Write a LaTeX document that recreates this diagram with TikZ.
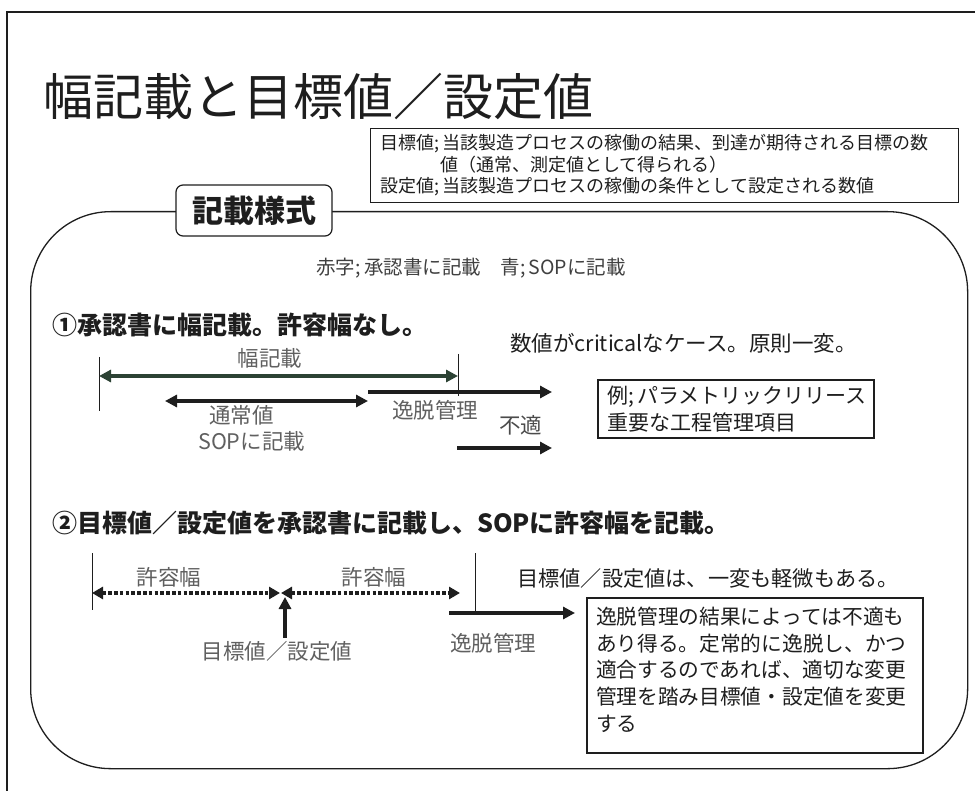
\documentclass[tikz,border=0pt]{standalone}
\usepackage{fontspec}
\setmainfont{Noto Sans CJK JP}
\usetikzlibrary{arrows.meta}
\definecolor{ink}{HTML}{1E1E1E}
\definecolor{labelgray}{HTML}{606060}
\definecolor{darkgreen}{HTML}{2C4234}
\tikzset{
  txt/.style={inner sep=0pt, anchor=west, text=ink},
  glabel/.style={inner sep=0pt, text=labelgray, font=\fontsize{21.5}{24}\selectfont},
  tick/.style={draw=ink, line width=1pt},
  boldarrow/.style={draw=ink, line width=3.8pt, -{Triangle[length=12pt,width=12pt]}},
  dblarrow/.style={draw=ink, line width=3.8pt, {Triangle[length=12pt,width=12pt]}-{Triangle[length=12pt,width=12pt]}},
  dotarrow/.style={draw=ink, line width=4.4pt, dash pattern=on 3.6pt off 2.2pt, {Triangle[length=11pt,width=12pt]}-{Triangle[length=11pt,width=12pt]}},
  notebox/.style={draw=ink, line width=2pt, anchor=north west, align=left, text=ink, inner xsep=9pt}
}
\begin{document}
\begin{tikzpicture}[x=1pt,y=-1pt]
\useasboundingbox (0,0) rectangle (975,791);
\clip (0,0) rectangle (975,791);
\fill[white] (0,0) rectangle (975,791);
% outer frame
\draw[ink, line width=1.6pt] (7,12) rectangle (995,810);
% title
\node[txt, font=\fontsize{50}{55}\selectfont] (title) at (43,97) {幅記載と目標値／設定値};
% definition box
\node[draw=ink, line width=1.3pt, anchor=north west, inner xsep=10pt, inner ysep=6pt,
      text width=568pt, align=left, text=ink, font=\fontsize{18}{21.5}\selectfont]
  (defbox) at (370,128)
  {目標値;\,当該製造プロセスの稼働の結果、到達が期待される目標の数\\
   \hspace*{3.3em}値（通常、測定値として得られる）\\
   設定値;\,当該製造プロセスの稼働の条件として設定される数値};
% main panel
\node[draw=ink, line width=1.3pt, rounded corners=80pt, anchor=north west,
      minimum width=937pt, minimum height=557pt, inner sep=0pt] (panel) at (30,211) {};
\node[draw=ink, line width=1.2pt, rounded corners=7pt, fill=white, minimum width=156pt,
      minimum height=51pt, inner sep=0pt, text=ink, font=\fontsize{31}{34}\bfseries\selectfont]
  (kisai) at (254,210.5) {記載様式};
% legend line
\node[inner sep=0pt, text=ink!85, font=\fontsize{19.5}{22}\selectfont] (legend) at (471,268)
  {赤字;\,承認書に記載\hspace{1em}青;\,SOPに記載};
% ---- section 1 ----
\node[txt, font=\fontsize{25}{28}\bfseries\selectfont] (h1) at (52,325) {①承認書に幅記載。許容幅なし。};
\node[txt, font=\fontsize{21.5}{24}\selectfont] (crit) at (510,343) {数値がcriticalなケース。原則一変。};
\coordinate (v1t) at (99,357); \coordinate (v1b) at (99,411);
\coordinate (v2t) at (458,354); \coordinate (v2b) at (458,396);
\draw[tick] (v1t) -- (v1b);
\draw[tick] (v2t) -- (v2b);
\node[glabel] (habalbl) at (270,358) {幅記載};
\coordinate (w1) at (99,376); \coordinate (w2) at (458,376);
\draw[dblarrow, draw=darkgreen] (w1) -- (w2);
\coordinate (n1) at (165,401); \coordinate (n2) at (368,401);
\draw[dblarrow] (n1) -- (n2);
\coordinate (d1) at (368,392); \coordinate (d2) at (552,392);
\draw[boldarrow] (d1) -- (d2);
\coordinate (f1) at (457,448); \coordinate (f2) at (552,448);
\draw[boldarrow] (f1) -- (f2);
\node[glabel, anchor=west] (itsu1) at (392,410) {逸脱管理};
\node[glabel, anchor=west] (tsujo) at (209,415) {通常値};
\node[glabel, anchor=west] (sop1) at (198,441) {SOPに記載};
\node[glabel, anchor=west, text=ink!80] (futeki) at (499,425) {不適};
\node[notebox, minimum width=276pt, minimum height=58pt, text width=258pt, inner ysep=3pt,
      font=\fontsize{21}{27}\selectfont] (rei) at (597,379)
  {例;\,パラメトリックリリース\\重要な工程管理項目};
% ---- section 2 ----
\node[txt, font=\fontsize{25}{28}\bfseries\selectfont] (h2) at (52,523) {②目標値／設定値を承認書に記載し、SOPに許容幅を記載。};
\coordinate (u1t) at (92,553); \coordinate (u1b) at (92,610);
\coordinate (u2t) at (475,553); \coordinate (u2b) at (475,612);
\draw[tick] (u1t) -- (u1b);
\draw[tick] (u2t) -- (u2b);
\node[glabel] (kyo1) at (169,577) {許容幅};
\node[glabel] (kyo2) at (374,577) {許容幅};
\coordinate (k1) at (92,593); \coordinate (k2) at (280,593);
\coordinate (k3) at (281,593); \coordinate (k4) at (460,593);
\draw[dotarrow] (k1) -- (k2);
\draw[dotarrow] (k3) -- (k4);
\node[glabel] (target) at (277,651) {目標値／設定値};
\coordinate (up) at (285,597);
\draw[boldarrow] (target.north -| up) ++(0,-3) -- (up);
\coordinate (e1) at (449,613); \coordinate (e2) at (575,613);
\draw[boldarrow] (e1) -- (e2);
\node[glabel, anchor=west] (itsu2) at (450,643) {逸脱管理};
\node[txt, font=\fontsize{21.2}{24}\selectfont] (ippen) at (517,578) {目標値／設定値は、一変も軽微もある。};
\node[notebox, minimum width=336pt, minimum height=155pt, text width=318pt, inner ysep=3pt,
      font=\fontsize{20.7}{26.7}\selectfont] (result) at (586,597)
  {逸脱管理の結果によっては不適も\\あり得る。定常的に逸脱し、かつ\\適合するのであれば、適切な変更\\管理を踏み目標値・設定値を変更\\する\\[-14pt]\mbox{}};
\end{tikzpicture}
\end{document}
